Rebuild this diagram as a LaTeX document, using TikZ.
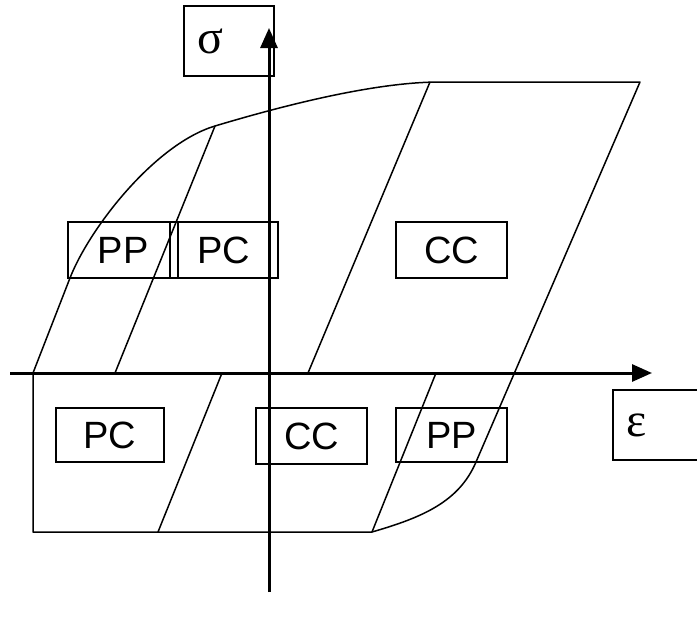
\documentclass[tikz,border=0pt]{standalone}
\usepackage{fontspec}
\setmainfont{Liberation Sans}
\newfontfamily\grkfont{Liberation Serif}
\usetikzlibrary{arrows.meta}
\begin{document}
\begin{tikzpicture}[x=1pt,y=-1pt,
  axis/.style={line width=3pt},
  loopline/.style={line width=1.5pt, line join=round},
  lbl/.style={draw, line width=1.2pt, inner sep=0pt, font=\fontsize{38}{40}\selectfont},
  sym/.style={draw, line width=1.2pt, inner ysep=0pt, inner xsep=13pt, align=left, font=\grkfont\fontsize{48}{50}\selectfont}]
\useasboundingbox (0,0) rectangle (697,621);
% hysteresis loop
\coordinate (A) at (33,373);
\coordinate (A2) at (70,278);
\coordinate (B) at (215,126);
\coordinate (C) at (440,82);
\coordinate (D) at (640,82);
\coordinate (E) at (476,462);
\coordinate (F) at (372,532);
\coordinate (G) at (33,532);
\draw[loopline] (A) -- (A2) .. controls (89.5,228) and (155,144) .. (B)
  .. controls (295,102) and (380,82) .. (C) -- (D) -- (E)
  .. controls (459,502) and (422,517.5) .. (F) -- (G) -- cycle;
% inner unloading lines
\coordinate (L1b) at (115,373);
\coordinate (L2t) at (430,82);
\coordinate (L2b) at (308,373);
\coordinate (L3t) at (222,373);
\coordinate (L3b) at (158,532);
\coordinate (L4t) at (436,373);
\draw[loopline] (B) -- (L1b);
\draw[loopline] (L2t) -- (L2b);
\draw[loopline] (L3t) -- (L3b);
\draw[loopline] (L4t) -- (F);
% axes
\coordinate (xs) at (10,373);
\coordinate (xe) at (652,373);
\coordinate (ys) at (269,592);
\coordinate (ye) at (269,28);
\draw[axis, -{Triangle[length=20pt,width=17pt]}] (xs) -- (xe);
\draw[axis, -{Triangle[length=20pt,width=17pt]}] (ys) -- (ye);
% labels
\node[sym, minimum height=70pt, text width=64pt] (sig) at (229,41) {σ};
\node[sym, minimum height=70pt, text width=60pt] (eps) at (656,425) {ε};
\node[lbl, minimum width=110pt, minimum height=56pt] (pp1) at (123,250) {PP};
\node[lbl, minimum width=108pt, minimum height=56pt] (pc1) at (224,250) {PC};
\node[lbl, minimum width=111pt, minimum height=56pt] (cc1) at (451.5,250) {CC};
\node[lbl, minimum width=108pt, minimum height=54pt] (pc2) at (110,435) {PC};
\node[lbl, minimum width=111pt, minimum height=56pt] (cc2) at (311.5,436) {CC};
\node[lbl, minimum width=111pt, minimum height=54pt] (pp2) at (451.5,435) {PP};
\end{tikzpicture}
\end{document}
